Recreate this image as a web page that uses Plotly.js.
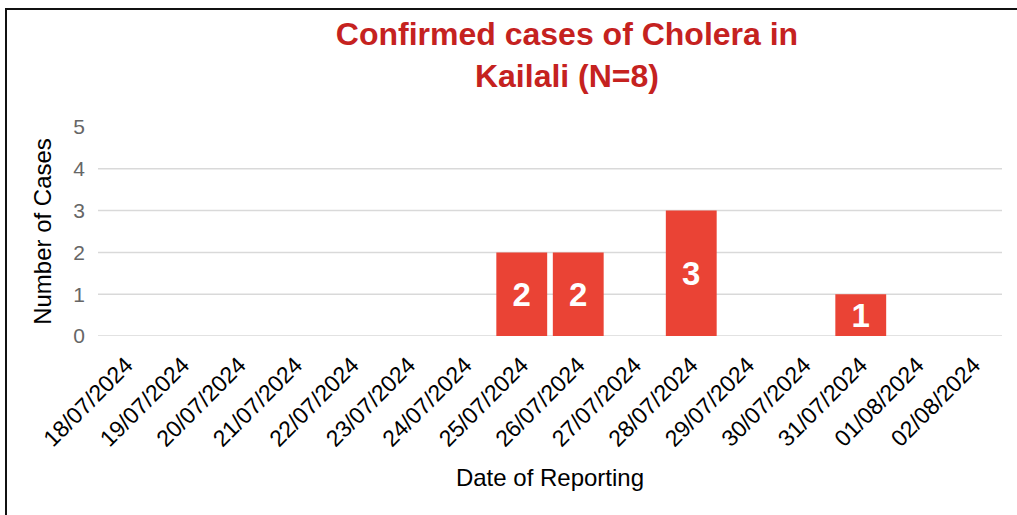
<!DOCTYPE html>
<html>
<head>
<meta charset="utf-8">
<script src="https://cdn.plot.ly/plotly-3.0.1.min.js"></script>
<style>
  html, body { margin: 0; padding: 0; background: #fff; }
  #chart { width: 1017px; height: 515px; }
  #frame { position: absolute; left: 5px; top: 8px; right: 0; bottom: 0;
           border-top: 2px solid #111; border-left: 2px solid #111; pointer-events: none; }
</style>
</head>
<body>
<div id="chart"></div>
<div id="frame"></div>
<script>
const dates = ["18/07/2024","19/07/2024","20/07/2024","21/07/2024","22/07/2024","23/07/2024",
  "24/07/2024","25/07/2024","26/07/2024","27/07/2024","28/07/2024","29/07/2024",
  "30/07/2024","31/07/2024","01/08/2024","02/08/2024"];
const cases = [0,0,0,0,0,0,0,2,2,0,3,0,0,1,0,0];
const yTicks = [0,1,2,3,4,5];
const gridTicks = [0,1,2,3,4];

const FONT = "Arial, 'Liberation Sans', sans-serif";

const trace = {
  type: "bar",
  x: dates,
  y: cases,
  text: cases.map(v => v ? String(v) : ""),
  textposition: "inside",
  insidetextanchor: "middle",
  textangle: 0,
  constraintext: "none",
  textfont: { family: FONT, size: 33, color: "#ffffff", weight: "bold" },
  marker: { color: "#EA4335" },
  hoverinfo: "x+y"
};

const shapes = gridTicks.map(v => ({
  type: "line", xref: "paper", yref: "y", x0: 0, x1: 1, y0: v, y1: v,
  line: { color: "#d9d9d9", width: 1.5 }, layer: "below"
}));

const layout = {
  width: 1017, height: 515,
  margin: { l: 98, r: 15, t: 127, b: 179 },
  paper_bgcolor: "#ffffff", plot_bgcolor: "#ffffff",
  bargap: 0.1,
  showlegend: false,
  font: { family: FONT, color: "#000" },
  title: {
    text: "<b>Confirmed cases of Cholera in<br>Kailali (N=8)</b>",
    font: { family: FONT, size: 32, color: "#C5221F" },
    xref: "container", x: 0.5575, xanchor: "center",
    yref: "container", y: 0.9126, yanchor: "top"
  },
  xaxis: {
    type: "category",
    tickangle: -45,
    tickfont: { family: FONT, size: 23, color: "#000" },
    showgrid: false, zeroline: false, showline: false,
    ticks: "", ticklabelstandoff: 10,
    title: { text: "Date of Reporting", font: { family: FONT, size: 24, color: "#000" }, standoff: 18 }
  },
  yaxis: {
    range: [0, 5],
    tickvals: yTicks,
    ticktext: yTicks.map(String),
    tickfont: { family: FONT, size: 21, color: "#666666" },
    showgrid: false, zeroline: false, showline: false,
    ticks: "", ticklabelstandoff: 12,
    title: { text: "Number of Cases", font: { family: FONT, size: 24, color: "#000" }, standoff: 14 }
  },
  shapes: shapes
};

Plotly.newPlot("chart", [trace], layout, { displayModeBar: false, staticPlot: true });
</script>
</body>
</html>
